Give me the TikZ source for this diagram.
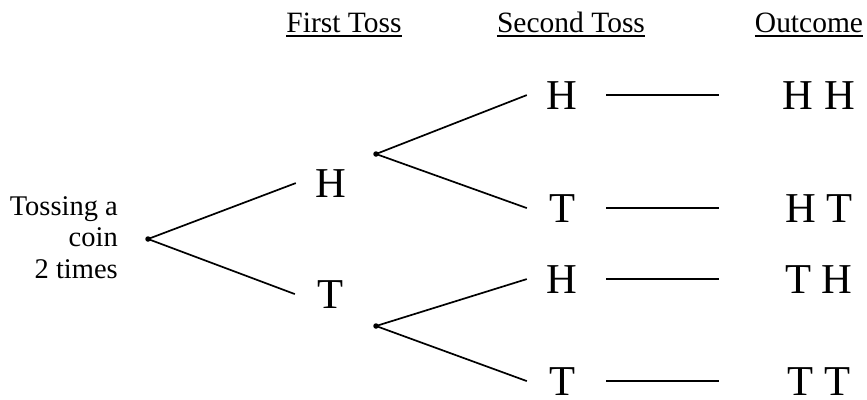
\documentclass[tikz,border=0pt]{standalone}
\usepackage{fontspec}
\setmainfont{Liberation Serif}
\newcommand{\tossfont}{\fontsize{42.7pt}{51pt}\selectfont}
\newcommand{\headfont}{\fontsize{29.6pt}{35pt}\selectfont}
\newcommand{\introfont}{\fontsize{28.6pt}{31.6pt}\selectfont}

\begin{document}
\begin{tikzpicture}[
  x=1bp,y=-1bp,
  every node/.style={inner sep=0pt},
  head/.style={font=\headfont,anchor=base,outer ysep=3.5bp},
  toss/.style={font=\tossfont,anchor=base,minimum width=70bp},
  outcome/.style={font=\tossfont,anchor=base,minimum width=200bp},
  dot/.style={circle,fill=black,minimum size=5.5bp},
  branch/.style={line width=1.7bp},
  rowline/.style={line width=1.7bp,shorten <=9bp},
  uline/.style={line width=2bp}
]
\useasboundingbox (0,0) rectangle (867,399);

% column headings
\node[head] (hFirst) at (344,32) {First Toss};
\node[head] (hSecond) at (571,32) {Second Toss};
\node[head] (hOut) at (809,32) {Outcome};
\draw[uline] (hFirst.south west) -- (hFirst.south east);
\draw[uline] (hSecond.south west) -- (hSecond.south east);
\draw[uline] (hOut.south west) -- (hOut.south east);

\node[font=\introfont,align=right,anchor=base east] (intro) at (118,278) {Tossing a\\coin\\2 times};

% tree
\node[dot] (root) at (148,239) {};
\node[toss] (fH) at (331,197) {H};
\node[toss] (fT) at (330,308) {T};
\node[dot] (bH) at (376,154) {};
\node[dot] (bT) at (376,326) {};
\node[toss] (sHH) at (562,109) {H};
\node[toss] (sHT) at (562,222) {T};
\node[toss] (sTH) at (562,293) {H};
\node[toss] (sTT) at (562,395) {T};

\node[outcome] (oHH) at (819,109) {H H};
\node[outcome] (oHT) at (819,222) {H T};
\node[outcome] (oTH) at (819,293) {T H};
\node[outcome] (oTT) at (819,395) {T T};

\draw[branch] (root.center) -- (fH.west);
\draw[branch] (root.center) -- (fT.west);
\draw[branch] (bH.center) -- (sHH.west);
\draw[branch] (bH.center) -- (sHT.west);
\draw[branch] (bT.center) -- (sTH.west);
\draw[branch] (bT.center) -- (sTT.west);

\draw[rowline] (sHH.east) -- (oHH.west);
\draw[rowline] (sHT.east) -- (oHT.west);
\draw[rowline] (sTH.east) -- (oTH.west);
\draw[rowline] (sTT.east) -- (oTT.west);
\end{tikzpicture}
\end{document}
